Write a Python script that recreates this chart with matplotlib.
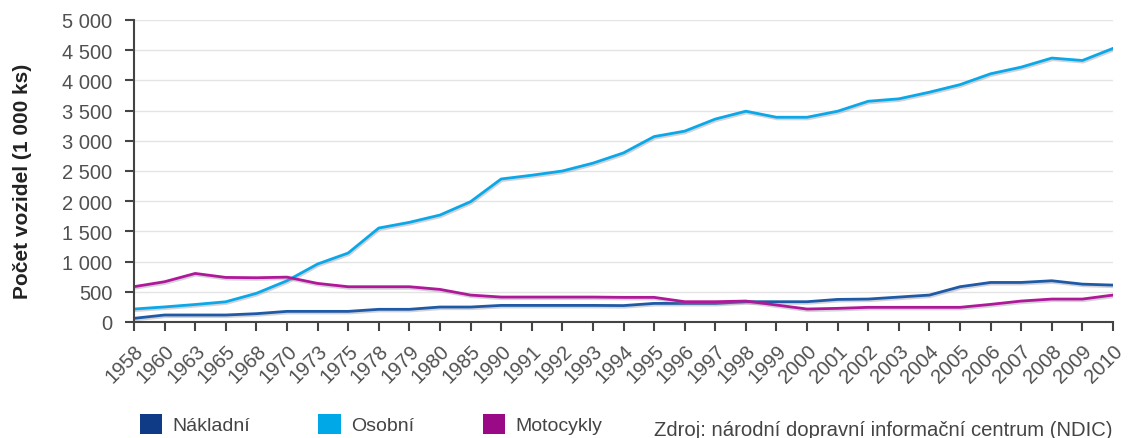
import matplotlib.pyplot as plt
import matplotlib.patheffects as pe
from matplotlib.patches import Patch
from matplotlib.ticker import FuncFormatter

years = ['1958', '1960', '1963', '1965', '1968', '1970', '1973', '1975', '1978', '1979',
         '1980', '1985', '1990', '1991', '1992', '1993', '1994', '1995', '1996', '1997',
         '1998', '1999', '2000', '2001', '2002', '2003', '2004', '2005', '2006', '2007',
         '2008', '2009', '2010']

nakladni = [61, 116, 116, 116, 138, 176, 176, 176, 210, 210,
            248, 248, 275, 275, 275, 275, 272, 308, 308, 308,
            336, 336, 336, 374, 380, 413, 446, 584, 655, 655,
            683, 627, 611]

osobni = [215, 250, 290, 335, 475, 683, 960, 1142, 1556, 1650,
          1771, 1992, 2368, 2430, 2500, 2630, 2800, 3070, 3160, 3360,
          3490, 3390, 3390, 3490, 3655, 3695, 3805, 3930, 4110, 4220,
          4370, 4330, 4530]

motocykly = [585, 667, 804, 738, 733, 743, 639, 584, 584, 584,
             540, 446, 413, 413, 413, 413, 408, 408, 336, 336,
             347, 281, 215, 226, 243, 243, 243, 243, 292, 347,
             380, 380, 446]

plt.rcParams['font.family'] = ['Liberation Sans', 'DejaVu Sans']

fig = plt.figure(figsize=(11.29, 4.39), dpi=100)
ax = fig.add_axes([134 / 1129, 1 - 323 / 439, (1113 - 134) / 1129, (323 - 21) / 439])

x = list(range(len(years)))
shadow = [pe.SimpleLineShadow(offset=(0.6, -1.2), shadow_color='#7f8090', alpha=0.35), pe.Normal()]
ax.plot(x, nakladni, color='#1f5aa6', lw=2, path_effects=shadow)
ax.plot(x, osobni, color='#0aa8e8', lw=2, path_effects=shadow)
ax.plot(x, motocykly, color='#b0189a', lw=2, path_effects=shadow)

ax.set_xlim(0, len(years) - 1)
ax.set_ylim(0, 5000)
ax.set_yticks(range(0, 5001, 500))
ax.yaxis.set_major_formatter(FuncFormatter(lambda v, p: f'{int(v):,}'.replace(',', ' ')))
ax.set_xticks(x)
ax.set_xticklabels(years, rotation=45, ha='right', rotation_mode='anchor')

ax.grid(axis='y', color='#e4e4e4', lw=1)
ax.set_axisbelow(True)
for s in ['top', 'right']:
    ax.spines[s].set_visible(False)
for s in ['left', 'bottom']:
    ax.spines[s].set_color('#444444')
    ax.spines[s].set_linewidth(1.5)
ax.tick_params(axis='both', colors='#444444', width=1.5, length=6.5, labelsize=14.5, labelcolor='#505050')
ax.tick_params(axis='y', pad=9)
ax.tick_params(axis='x', pad=7)

ax.set_ylabel('Počet vozidel (1 000 ks)', fontsize=15, fontweight='bold', color='#222222')
ax.yaxis.set_label_coords(-102 / 979, 0.47)

handles = [Patch(facecolor='#0f3a85', label='Nákladní'),
           Patch(facecolor='#00a8e8', label='Osobní'),
           Patch(facecolor='#9a0a86', label='Motocykly')]
fig.legend(handles=handles, loc='center left', bbox_to_anchor=(122 / 1129, 1 - 425 / 439), ncol=3,
           frameon=False, handlelength=1.15, handleheight=1.2, handletextpad=0.55,
           columnspacing=3.5, fontsize=14, labelcolor='#444444')

fig.text(654 / 1129, 1 - 431 / 439, 'Zdroj: národní dopravní informační centrum (NDIC)',
         fontsize=14.6, color='#444444', ha='left', va='center')

fig.savefig('out.png', dpi=100)
